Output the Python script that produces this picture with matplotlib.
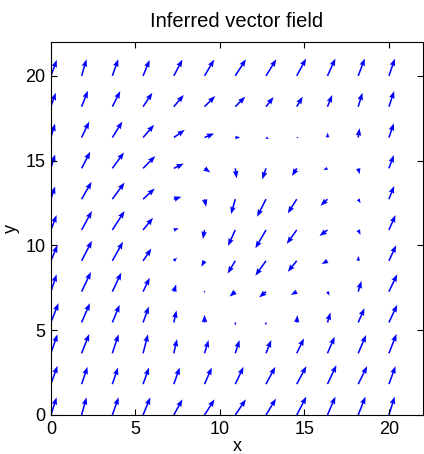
import numpy as np
import matplotlib
matplotlib.use("Agg")
import matplotlib.pyplot as plt

plt.rcParams['font.family'] = ['Liberation Sans', 'DejaVu Sans']

# grid positions (12 x 12)
xs = np.linspace(0, 20, 12)
ys = np.linspace(0, 20, 12)

# arrow components in data units, rows go from y=0 (first) up to y=20 (last)
u = [
    [0.34, 0.29, 0.37, 0.43, 0.51, 0.59, 0.63, 0.59, 0.57, 0.47, 0.43, 0.34],
    [0.39, 0.35, 0.34, 0.35, 0.35, 0.43, 0.49, 0.55, 0.57, 0.53, 0.53, 0.39],
    [0.39, 0.45, 0.37, 0.29, 0.19, 0.24, 0.25, 0.31, 0.43, 0.43, 0.47, 0.45],
    [0.45, 0.49, 0.43, 0.34, 0.16, 0.00, 0.03, -0.02, 0.04, 0.18, 0.37, 0.49],
    [0.34, 0.55, 0.53, 0.39, 0.14, -0.06, -0.34, -0.41, -0.34, 0.12, 0.19, 0.49],
    [0.39, 0.61, 0.63, 0.49, 0.19, -0.19, -0.45, -0.63, -0.53, -0.34, 0.02, 0.43],
    [0.34, 0.61, 0.72, 0.59, 0.29, -0.10, -0.43, -0.63, -0.59, -0.47, 0.14, 0.39],
    [0.25, 0.59, 0.72, 0.69, 0.45, 0.10, -0.25, -0.53, -0.53, -0.41, 0.14, 0.31],
    [0.25, 0.51, 0.69, 0.72, 0.59, 0.34, 0.08, -0.22, -0.28, -0.24, 0.08, 0.29],
    [0.25, 0.45, 0.59, 0.65, 0.65, 0.57, 0.29, 0.18, 0.12, 0.02, 0.08, 0.29],
    [0.29, 0.37, 0.47, 0.55, 0.59, 0.63, 0.59, 0.45, 0.35, 0.28, 0.25, 0.31],
    [0.35, 0.29, 0.35, 0.39, 0.51, 0.57, 0.63, 0.61, 0.55, 0.47, 0.39, 0.35],
]
v = [
    [1.04, 1.04, 1.04, 1.04, 0.92, 0.92, 0.92, 0.96, 1.08, 1.08, 1.08, 1.08],
    [1.08, 1.02, 0.98, 0.98, 0.98, 0.98, 1.02, 1.02, 1.06, 1.12, 1.06, 1.06],
    [1.12, 1.14, 1.12, 1.12, 0.84, 0.78, 0.78, 0.78, 0.88, 0.98, 1.08, 1.14],
    [1.14, 1.14, 1.04, 0.94, 0.71, 0.45, -0.18, -0.18, 0.43, 0.59, 0.84, 1.04],
    [1.02, 1.16, 1.12, 0.82, 0.43, 0.00, -0.29, -0.34, -0.19, -0.24, 0.63, 1.02],
    [0.92, 1.18, 1.12, 0.72, 0.19, -0.35, -0.75, -0.88, -0.65, -0.19, 0.29, 0.92],
    [0.88, 1.12, 1.12, 0.72, 0.10, -0.53, -0.94, -1.08, -0.82, -0.35, -0.29, 0.88],
    [0.75, 1.02, 0.98, 0.63, 0.14, -0.45, -0.88, -1.04, -0.84, -0.39, -0.24, 0.78],
    [0.82, 0.98, 0.94, 0.72, 0.28, -0.24, -0.59, -0.65, -0.45, -0.09, -0.35, 0.78],
    [0.82, 0.94, 0.94, 0.75, 0.45, 0.24, 0.00, -0.09, 0.00, 0.29, 0.55, 0.84],
    [0.82, 0.94, 0.92, 0.82, 0.69, 0.63, 0.59, 0.57, 0.59, 0.69, 0.82, 0.92],
    [0.94, 0.98, 0.98, 0.94, 0.96, 0.96, 0.98, 0.98, 1.02, 1.02, 1.02, 1.02],
]

X, Y = np.meshgrid(xs, ys)

fig = plt.figure(figsize=(4.24, 4.54), dpi=100)
ax = fig.add_axes([0.120, 0.086, 0.877, 0.8216])
ax.quiver(X, Y, np.array(u), np.array(v), color='blue',
          angles='xy', scale_units='xy', scale=1,
          width=0.0042, headwidth=3.6, headlength=4.8, headaxislength=4.3)

ax.set_xlim(0, 22)
ax.set_ylim(0, 22)
ax.set_xticks([0, 5, 10, 15, 20])
ax.set_yticks([0, 5, 10, 15, 20])
ax.tick_params(direction='in', top=True, right=True, labelsize=13, length=4, pad=4)
ax.set_xlabel('x', fontsize=13, labelpad=0)
ax.set_ylabel('y', fontsize=13, labelpad=4)
ax.set_title('Inferred vector field', fontsize=14.5, pad=11)

fig.savefig('out.png', dpi=100)
